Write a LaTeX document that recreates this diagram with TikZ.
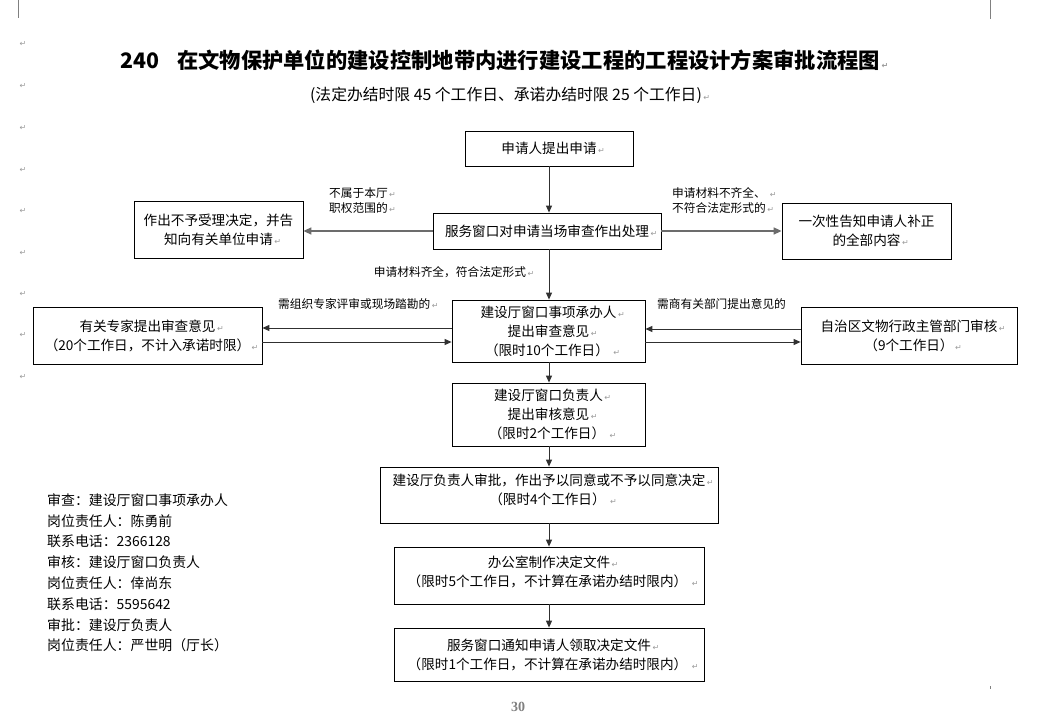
\documentclass[tikz,border=0pt]{standalone}
\usepackage{fontspec}
\setmainfont{Noto Sans CJK SC}
\newfontfamily\retfont{DejaVu Sans}
\newfontfamily\pgfont{Liberation Serif}
\usetikzlibrary{arrows.meta}
\definecolor{retgray}{HTML}{9A9A9A}
\definecolor{lncol}{HTML}{303030}
\newcommand\retsym{{\retfont\fontsize{8}{8}\selectfont\color{retgray}↵}}
\newcommand\ret{\rlap{\hspace{1.5pt}\retsym}}
\begin{document}
\begin{tikzpicture}[x=1pt,y=-1pt,
 box/.style={draw=black, line width=0.8pt, inner sep=0pt, align=center, font=\fontsize{13.6}{19}\selectfont},
 txt/.style={inner sep=0pt, align=center, font=\fontsize{13.6}{19}\selectfont},
 lbl/.style={inner sep=0pt, align=left, font=\fontsize{11.7}{15.5}\selectfont},
 side/.style={inner sep=0pt, anchor=west, font=\fontsize{13.9}{16}\selectfont},
 arr/.style={-{Triangle[length=7pt,width=6pt]}, line width=1pt, draw=lncol},
 garr/.style={-{Triangle[length=8pt,width=7pt]}, line width=1.6pt, draw=gray!85!black},
 cropmark/.style={draw=gray, line width=0.8pt}]
\useasboundingbox (0,0) rectangle (1046,727);

% title
\node[anchor=west, inner sep=0pt, font=\fontsize{21.3}{24}\selectfont\bfseries] (title) at (120,60) {240\hspace{18pt}在文物保护单位的建设控制地带内进行建设工程的工程设计方案审批流程图\ret};
\node[inner sep=0pt, font=\fontsize{15.8}{18}\selectfont] (sub) at (506,95) {(法定办结时限 45 个工作日、承诺办结时限 25 个工作日)\ret};

% boxes
\node[box, minimum width=168pt, minimum height=35pt] (apply) at (549,148.5) {申请人提出申请\ret};
\node[box, minimum width=228pt, minimum height=36pt] (serv) at (547,231) {服务窗口对申请当场审查作出处理\ret};
\node[box, minimum width=169pt, minimum height=57pt] (reject) at (218.5,229.5) {作出不予受理决定，并告\\知向有关单位申请\ret};
\node[box, minimum width=169pt, minimum height=56pt] (notify) at (866.5,231) {一次性告知申请人补正\\的全部内容\ret};
\node[box, minimum width=193pt, minimum height=62pt] (review) at (548.5,331) {建设厅窗口事项承办人\ret\\提出审查意见\ret\\（限时10个工作日） \ret};
\node[box, minimum width=229pt, minimum height=57pt] (expert) at (147.5,335.5) {有关专家提出审查意见\ret\\（20个工作日，不计入承诺时限）\ret};
\node[box, minimum width=216pt, minimum height=57pt] (region) at (909,335.5) {自治区文物行政主管部门审核\ret\\（9个工作日）\ret};
\node[box, minimum width=193pt, minimum height=63pt] (head) at (548.5,414.5) {建设厅窗口负责人\ret\\提出审核意见\ret\\（限时2个工作日） \ret};
\node[box, minimum width=338pt, minimum height=56pt] (approve) at (549,495) {};
\node[txt] (approvet) at (549,489.5) {建设厅负责人审批，作出予以同意或不予以同意决定\ret\\（限时4个工作日） \ret};
\node[box, minimum width=310pt, minimum height=57pt] (office) at (549,575.5) {};
\node[txt] (officet) at (549,572) {办公室制作决定文件\ret\\（限时5个工作日，不计算在承诺办结时限内） \ret};
\node[box, minimum width=310pt, minimum height=53pt] (inform) at (549,654.5) {服务窗口通知申请人领取决定文件\ret\\（限时1个工作日，不计算在承诺办结时限内） \ret};

% labels
\node[lbl, anchor=west] (l1) at (329,200.5) {不属于本厅\ret\\职权范围的\ret};
\node[lbl, anchor=west] (l2) at (672,200.5) {申请材料不齐全、 \ret\\不符合法定形式的\ret};
\node[lbl] (l3) at (450,272) {申请材料齐全，符合法定形式\ret};
\node[lbl, anchor=west] (l4) at (278,304) {需组织专家评审或现场踏勘的\ret};
\node[lbl, anchor=west] (l5) at (657,304) {需商有关部门提出意见的};

% connectors
\draw[arr] (apply.south) -- (apply.south |- serv.north);
\draw[garr] (serv.west) -- (serv.west -| reject.east);
\draw[garr] (serv.east) -- (serv.east -| notify.west);
\draw[arr] (serv.south -| apply.south) -- (review.north -| apply.south);
\draw[arr] (review.west |- 0,328) -- (expert.east |- 0,328);
\draw[arr] (expert.east |- 0,342) -- (review.west |- 0,342);
\draw[arr] (region.west |- 0,329) -- (review.east |- 0,329);
\draw[arr] (review.east |- 0,342) -- (region.west |- 0,342);
\draw[arr] (review.south -| apply.south) -- (head.north -| apply.south);
\draw[arr] (head.south -| apply.south) -- (approve.north -| apply.south);
\draw[arr] (approve.south -| apply.south) -- (office.north -| apply.south);
\draw[arr] (office.south -| apply.south) -- (inform.north -| apply.south);

% contacts
\foreach \t [count=\i] in {审查：建设厅窗口事项承办人, 岗位责任人：陈勇前, 联系电话：2366128, 审核：建设厅窗口负责人, 岗位责任人：倖尚东, 联系电话：5595642, 审批：建设厅负责人, 岗位责任人：严世明（厅长）}
  \node[side] (c\i) at (47,{479.3+20.8*\i}) {\t};

% margin marks
\foreach \y [count=\i] in {44,86,128,170,211,253,294,335,377}
  \node[inner sep=0pt] (m\i) at (23,\y) {\retsym};
\draw[cropmark] (18,0) -- (18,18);
\draw[cropmark] (990,0) -- (990,19);
\draw[cropmark] (990,686) -- (990,689);

\node[inner sep=0pt, text=gray, font=\pgfont\bfseries\fontsize{14}{14}\selectfont] (page) at (518,707) {30};
\end{tikzpicture}
\end{document}
